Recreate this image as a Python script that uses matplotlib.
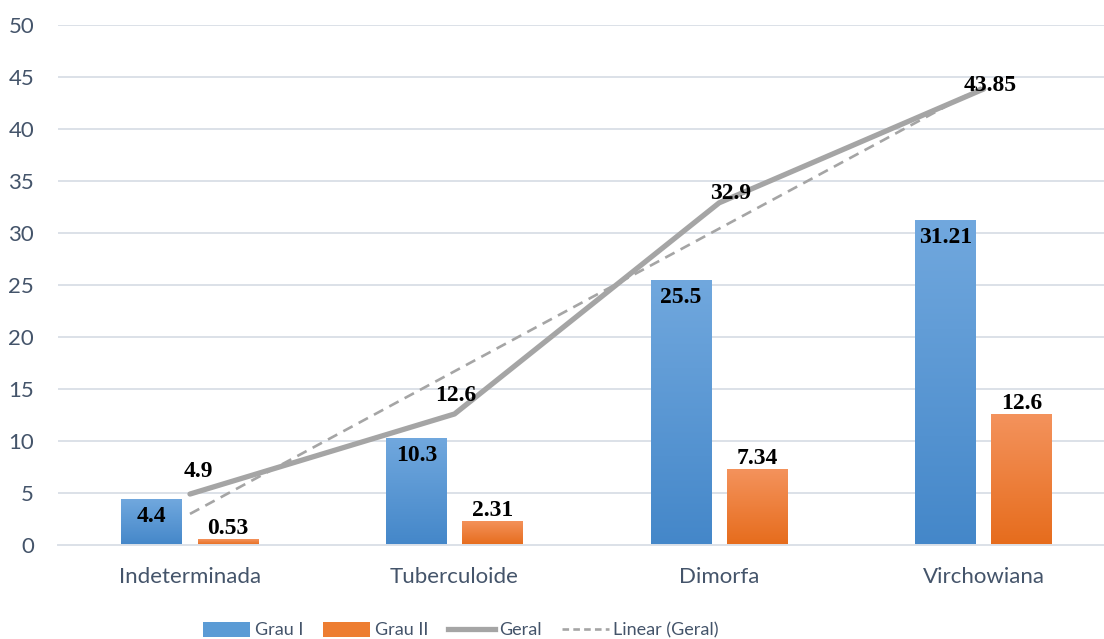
import numpy as np
import matplotlib
matplotlib.use("Agg")
import matplotlib.pyplot as plt
from matplotlib.colors import LinearSegmentedColormap
from matplotlib.patches import Patch
from matplotlib.lines import Line2D

categories = ["Indeterminada", "Tuberculoide", "Dimorfa", "Virchowiana"]
grau1 = [4.4, 10.3, 25.5, 31.21]
grau2 = [0.53, 2.31, 7.34, 12.6]
geral = [4.9, 12.6, 32.9, 43.85]
yticks = [0, 5, 10, 15, 20, 25, 30, 35, 40, 45, 50]

W, H = 1104, 639
fig = plt.figure(figsize=(W / 100, H / 100), dpi=100)
ax = fig.add_axes([57.7 / W, (H - 545) / H, (1116 - 57.7) / W, 520 / H])

x = np.arange(len(categories))
bw = 0.23
off = 0.144

blue_cmap = LinearSegmentedColormap.from_list("b", ["#4487C9", "#71A8DE"])
orange_cmap = LinearSegmentedColormap.from_list("o", ["#E66C1C", "#F4935D"])

grad = np.linspace(0, 1, 256).reshape(-1, 1)

def gradient_bars(xs, vals, cmap, mid):
    bars = ax.bar(xs, vals, width=bw, color=mid, zorder=2, linewidth=0)
    for b in bars:
        x0, y0 = b.get_x(), b.get_y()
        w, h = b.get_width(), b.get_height()
        im = ax.imshow(grad, cmap=cmap, origin="lower", aspect="auto",
                       extent=[x0, x0 + w, y0, y0 + h], zorder=2.1,
                       interpolation="bilinear")
        im.set_clip_path(b)
    return bars

b1 = gradient_bars(x - off, grau1, blue_cmap, "#5B9BD5")
b2 = gradient_bars(x + off, grau2, orange_cmap, "#ED7D31")

# Geral line
ax.plot(x, geral, color="#A5A5A5", lw=3.8, zorder=3, solid_capstyle="round")

# Linear trend of Geral
coef = np.polyfit(x, geral, 1)
trend = np.polyval(coef, x)
ax.plot(x, trend, color="#A5A5A5", lw=1.9, ls=(0, (4, 2.6)), zorder=3)

lab_font = dict(family="Liberation Serif", weight="bold", size=17, color="black")

# Grau I labels inside end
for xi, v in zip(x - off, grau1):
    ax.annotate(f"{v:g}", (xi, v), xytext=(0, -5), textcoords="offset points",
                ha="center", va="top", zorder=5, **lab_font)
# Grau II labels outside end
for xi, v in zip(x + off, grau2):
    ax.annotate(f"{v:g}", (xi, v), xytext=(0, 0), textcoords="offset points",
                ha="center", va="bottom", zorder=5, **lab_font)
# Geral labels
geral_offsets = [(6, 9), (1, 6), (8, -1), (5, -5)]
for xi, v, (dx, dy) in zip(x, geral, geral_offsets):
    ax.annotate(f"{v:g}", (xi, v), xytext=(dx, dy), textcoords="offset points",
                ha="center", va="bottom", zorder=5, **lab_font)

ax.set_xlim(-0.5, len(categories) - 0.5)
ax.set_ylim(0, 50)
ax.set_yticks(yticks)
ax.set_xticks(x)
ax.set_xticklabels(categories)

tick_color = "#44546A"
ax.tick_params(axis="y", length=0, pad=17, labelsize=16, labelcolor=tick_color)
ax.tick_params(axis="x", length=0, pad=16, labelsize=16, labelcolor=tick_color)
for lab in ax.get_xticklabels() + ax.get_yticklabels():
    lab.set_family("Lato")

ax.grid(axis="y", color="#DCE1E8", lw=1.4, zorder=0)
ax.set_axisbelow(True)
for s in ["top", "right", "left"]:
    ax.spines[s].set_visible(False)
ax.spines["bottom"].set_color("#DCE1E8")
ax.spines["bottom"].set_linewidth(1.4)

handles = [
    Patch(facecolor="#5B9BD5", label="Grau I"),
    Patch(facecolor="#ED7D31", label="Grau II"),
    Line2D([], [], color="#A5A5A5", lw=3.8, label="Geral"),
    Line2D([], [], color="#A5A5A5", lw=1.9, ls=(0, (2.5, 1.6)), label="Linear (Geral)"),
]
leg = fig.legend(handles=handles, loc="center", bbox_to_anchor=(461 / W, 1 - 630 / H),
                 ncol=4, frameon=False, handlelength=2.6,
                 handleheight=0.9, handletextpad=0.25, columnspacing=1.1,
                 prop=dict(family="Lato", size=13))
for t in leg.get_texts():
    t.set_color(tick_color)

fig.savefig("out.png", dpi=100)
